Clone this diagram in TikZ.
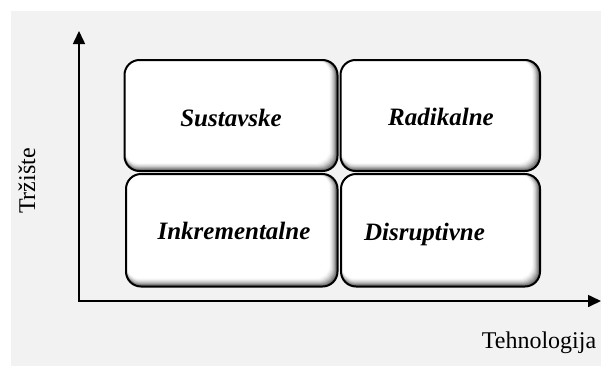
\documentclass[tikz,border=0pt]{standalone}
\usepackage{fontspec}
\setmainfont{Liberation Serif}
\usetikzlibrary{arrows.meta}
\definecolor{bg}{HTML}{F2F2F2}
\begin{document}
\begin{tikzpicture}[x=1pt,y=-1pt,
  cell/.style={draw=black,line width=2pt,rounded corners=15pt,inner sep=0pt,fill=white,
    path picture={\foreach \i/\c in {0/65,1/55,2/45,3/35,4/26,5/18,6/11,7/6,8/2,9/0}{\fill[black!\c,rounded corners=14pt] (path picture bounding box.north west) rectangle ([xshift=-\i*0.9pt,yshift=\i*0.9pt]path picture bounding box.south east);}}},
  lab/.style={font=\fontsize{25}{28}\selectfont\bfseries\itshape,anchor=base,inner sep=0pt},
  axislab/.style={anchor=base,inner sep=0pt,font=\fontsize{24}{28}\selectfont},
  axis/.style={line width=1.6pt,-{Triangle[length=13pt,width=12pt]}}]
\useasboundingbox (0,0) rectangle (601,367);
\fill[bg] (11,11) rectangle (601,366);
% axes
\coordinate (O) at (79,302);
\coordinate (ytop) at (79,31);
\coordinate (xend) at (601,301);
\draw[axis] (O) -- (ytop);
\draw[axis] ([xshift=-0.8pt]O|-xend) -- (xend);
% boxes
\node[cell,minimum width=213pt,minimum height=111pt] (S) at (231,115.5) {};
\node[cell,minimum width=199.5pt,minimum height=111pt] (R) at (440.25,115.5) {};
\node[cell,minimum width=211.5pt,minimum height=112.5pt] (I) at (231.75,230.25) {};
\node[cell,minimum width=199pt,minimum height=112.5pt] (D) at (440.5,230.25) {};
% labels
\node[lab] (tS) at (231,126) {Sustavske};
\node[lab] (tR) at (441,125.5) {Radikalne};
\node[lab] (tI) at (234,239.5) {Inkrementalne};
\node[lab] (tD) at (424.5,240) {Disruptivne};
\node[axislab] (tx) at (539,348) {Tehnologija};
\node[axislab,rotate=90] (ty) at (35,181) {Tržište};
\end{tikzpicture}
\end{document}
